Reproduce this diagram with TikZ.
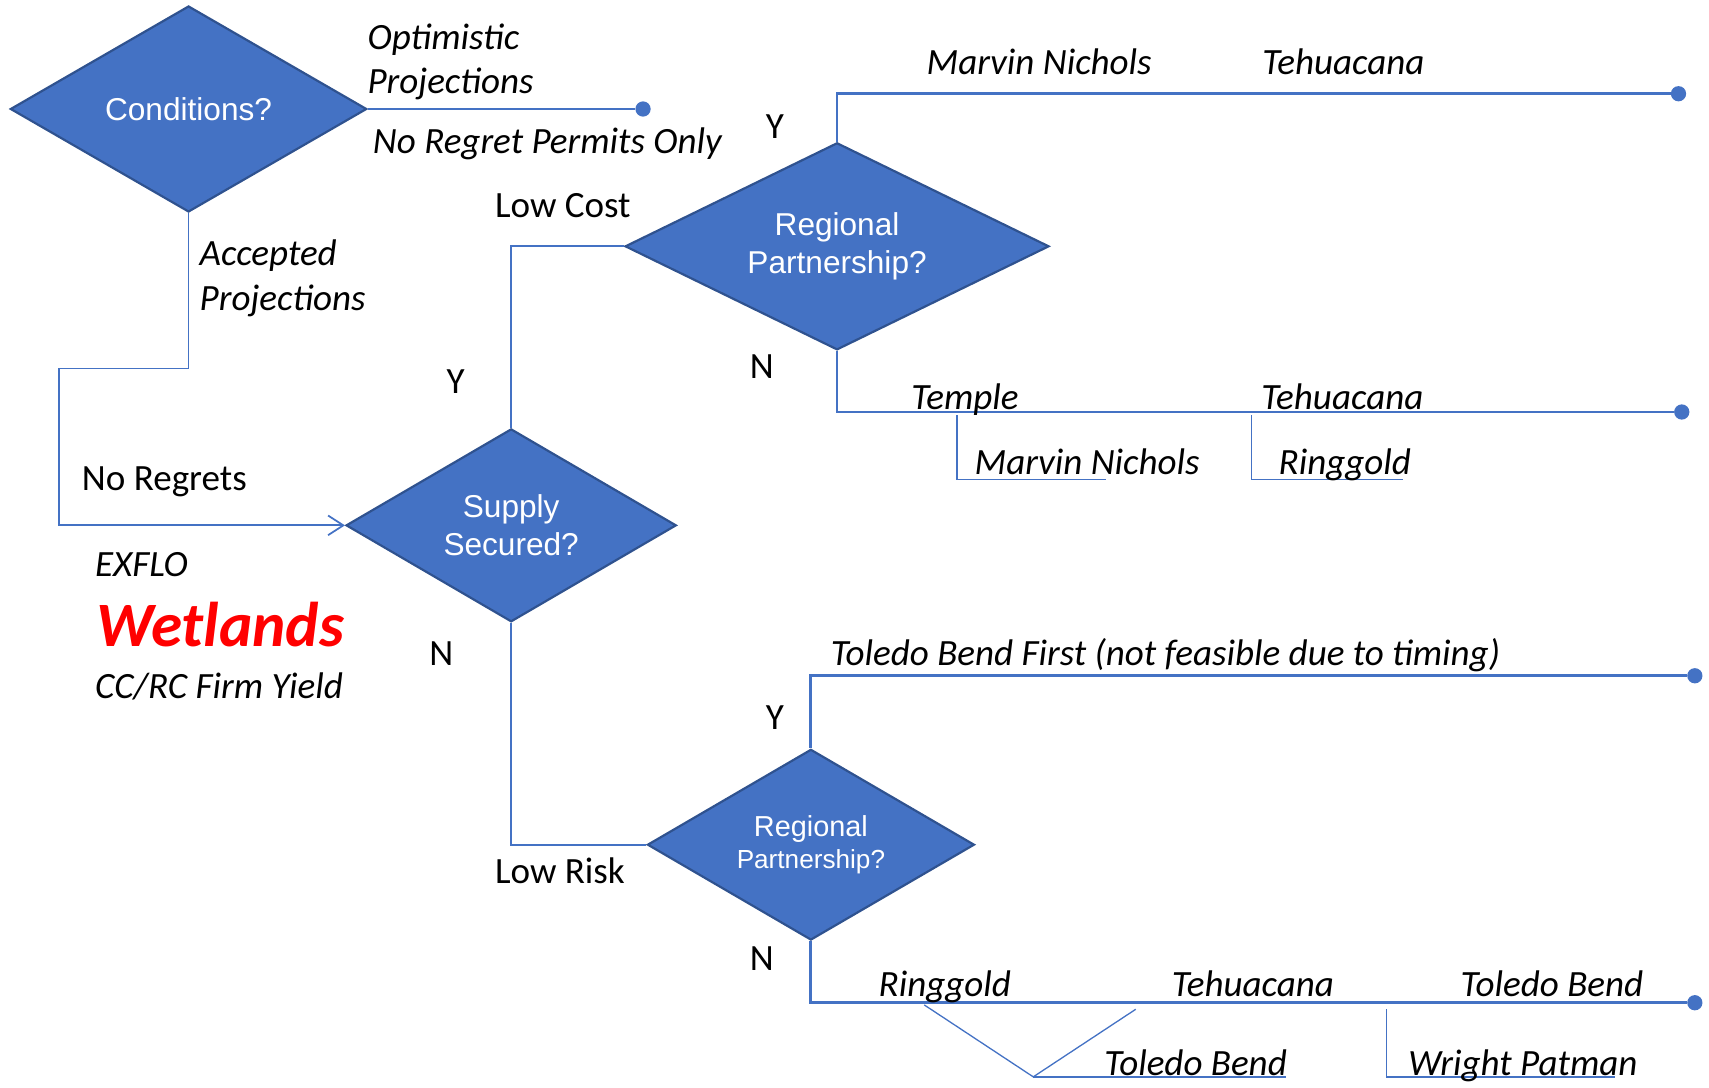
\documentclass[tikz,border=0pt]{standalone}
\usepackage{fontspec}
\setmainfont{Carlito}
\newfontfamily\arialfont{Liberation Sans}
\usetikzlibrary{shapes.geometric,arrows.meta}
\definecolor{ppblue}{HTML}{4472C4}
\definecolor{ppedge}{HTML}{2F528F}

\begin{document}
\begin{tikzpicture}[x=1pt,y=1pt,
  decision/.style={diamond,aspect=2,draw=ppedge,line width=2pt,fill=ppblue,text=white,inner sep=0pt,
    align=center,font=\arialfont\fontsize{29}{35}\selectfont},
  dot/.style={circle,fill=ppblue,inner sep=0pt,minimum size=14pt},
  branch/.style={draw=ppblue,line width=2.6pt},
  link/.style={draw=ppblue,line width=1.6pt},
  minor/.style={draw=ppblue,line width=1.2pt},
  lbl/.style={inner sep=0pt,anchor=base west,font=\fontsize{34}{40}\selectfont},
  ilbl/.style={lbl,font=\itshape\fontsize{34}{40}\selectfont},
  yn/.style={inner sep=0pt,anchor=base,font=\fontsize{34}{40}\selectfont}]
\useasboundingbox (0,0) rectangle (1568,-998);

% decisions
\node[decision,minimum width=327pt,minimum height=189pt] (cond) at (173,-100) {Conditions?};
\node[decision,minimum width=303pt,minimum height=177pt] (supply) at (469,-482) {Supply\\Secured?};
\node[decision,minimum width=389pt,minimum height=190pt] (reg1) at (768,-226) {Regional\\Partnership?};
\node[decision,minimum width=300pt,minimum height=175pt,font=\arialfont] (reg2) at (744,-775)
  {\fontsize{26.5}{33}\selectfont Regional\\[5pt]\fontsize{24}{33}\selectfont Partnership?};

% end points
\node[dot] (d1) at (590,-100) {};
\node[dot] (d2) at (1540,-86) {};
\node[dot] (d3) at (1543,-378) {};
\node[dot] (d4) at (1555,-620) {};
\node[dot] (d5) at (1555,-920) {};
\coordinate (turn) at (54,-338);

% connectors
\draw[branch] (cond.east) -- (d1);
\draw[link,-{Straight Barb[length=14pt,width=18pt]}] (cond.south) |- (turn) |- (supply.west);
\draw[link] (supply.north) |- (reg1.west);
\draw[link] (supply.south) |- (reg2.west);
\draw[branch] (reg1.north) |- (d2);
\draw[branch] (reg1.south) |- (d3);
\draw[branch] (reg2.north) |- (d4);
\draw[branch] (reg2.south) |- (d5);

% alternatives under the N branches
\coordinate (a1) at (878,-381);
\coordinate (a1e) at (1015,-440);
\coordinate (a2) at (1148,-381);
\coordinate (a2e) at (1287,-440);
\draw[minor] (a1) |- (a1e);
\draw[minor] (a2) |- (a2e);
\coordinate (v1) at (848,-922);
\coordinate (v2) at (948,-988);
\coordinate (v3) at (1042,-926);
\coordinate (v2e) at (1180,-988);
\draw[minor] (v1) -- (v2) -- (v3);
\draw[minor] (v2) -- (v2e);
\coordinate (w1) at (1272,-926);
\coordinate (w1e) at (1482,-988);
\draw[minor] (w1) |- (w1e);

% labels
\node[ilbl] (opt) at (337,-45) {Optimistic};
\node[ilbl] (optb) at (337,-86) {Projections};
\node[ilbl] (noperm) at (342,-141) {No Regret Permits Only};
\node[ilbl] (acc) at (183,-244) {Accepted};
\node[ilbl] (accb) at (183,-285) {Projections};
\node[lbl] (noreg) at (75,-450) {No Regrets};
\node[ilbl] (exflo) at (87,-529) {EXFLO};
\node[lbl,text=red,font=\bfseries\itshape\fontsize{58}{64}\selectfont] (wet) at (88,-593) {Wetlands};
\node[ilbl] (ccrc) at (87,-641) {CC/RC Firm Yield};
\node[lbl] (lowcost) at (454,-200) {Low Cost};
\node[lbl] (lowrisk) at (454,-811) {Low Risk};
\node[yn] (ys) at (418,-361) {Y};
\node[yn] (ns) at (405,-611) {N};
\node[yn] (y1) at (711,-127) {Y};
\node[yn] (n1) at (699,-347) {N};
\node[yn] (y2) at (711,-669) {Y};
\node[yn] (n2) at (699,-890) {N};

\node[ilbl] (mn1) at (850,-68) {Marvin Nichols};
\node[ilbl] (te1) at (1158,-68) {Tehuacana};
\node[ilbl] (tmp) at (836,-376) {Temple};
\node[ilbl] (te2) at (1157,-376) {Tehuacana};
\node[ilbl] (mn2) at (894,-435) {Marvin Nichols};
\node[ilbl] (rg1) at (1173,-435) {Ringgold};

\node[ilbl] (tbf) at (762,-611) {Toledo Bend First (not feasible due to timing)};
\node[ilbl] (rg2) at (806,-914) {Ringgold};
\node[ilbl] (te3) at (1075,-914) {Tehuacana};
\node[ilbl] (tb1) at (1340,-914) {Toledo Bend};
\node[ilbl] (tb2) at (1013,-987) {Toledo Bend};
\node[ilbl] (wp) at (1292,-987) {Wright Patman};
\end{tikzpicture}
\end{document}
